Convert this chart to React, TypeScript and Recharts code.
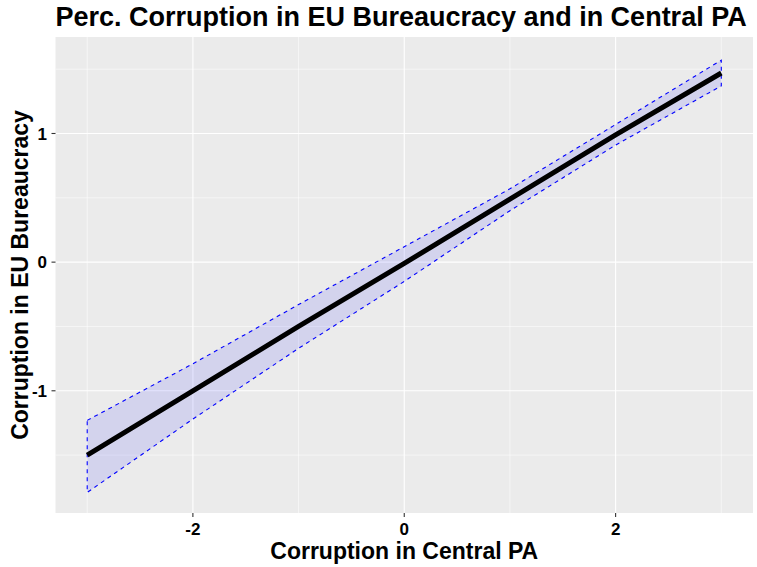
import React from "react";
import {
  ComposedChart,
  XAxis,
  YAxis,
  CartesianGrid,
  Area,
  Line,
  Label,
} from "recharts";

// Values
const xVals = [-3, -2, -1, 0, 1, 2, 3];
const fitVals = [-1.5, -1.0, -0.5, -0.01, 0.49, 0.99, 1.47];
const lowerVals = [-1.79, -1.22, -0.67, -0.15, 0.4, 0.91, 1.37];
const upperVals = [-1.23, -0.79, -0.33, 0.12, 0.57, 1.07, 1.57];

const xTicks = [-2, 0, 2];
const yTicks = [-1, 0, 1];
const xMinorGrid = [-3, -1, 1, 3];
const yMinorGrid = [-1.5, -0.5, 0.5, 1.5];

const TITLE = "Perc. Corruption in EU Bureaucracy and in Central PA";
const X_TITLE = "Corruption in Central PA";
const Y_TITLE = "Corruption in EU Bureaucracy";

const data = xVals.map((x, i) => ({
  x,
  fit: fitVals[i],
  band: [lowerVals[i], upperVals[i]],
}));

// closed outline of the ribbon: upper edge left->right, lower edge right->left
const outline = [
  ...xVals.map((x, i) => ({ x, edge: upperVals[i] })),
  ...xVals
    .map((x, i) => ({ x, edge: lowerVals[i] }))
    .reverse(),
  { x: xVals[0], edge: upperVals[0] },
];

const FONT = "'Liberation Sans', Arial, sans-serif";

const W = 757;
const H = 567;

export default function App() {
  return (
    <div
      style={{
        position: "absolute",
        left: 0,
        top: 0,
        width: W,
        height: H,
        background: "#ffffff",
        fontFamily: FONT,
      }}
    >
      <ComposedChart
        width={W}
        height={H}
        data={data}
        margin={{ top: 37, right: 4, bottom: 0, left: 0 }}
      >
        <CartesianGrid
          fill="#EBEBEB"
          stroke="#FFFFFF"
          strokeWidth={0.55}
          verticalValues={xMinorGrid}
          horizontalValues={yMinorGrid}
        />
        <CartesianGrid
          fill="none"
          stroke="#FFFFFF"
          strokeWidth={1.1}
          verticalValues={xTicks}
          horizontalValues={yTicks}
        />
        <XAxis
          dataKey="x"
          type="number"
          domain={[-3.3, 3.3]}
          ticks={xTicks}
          allowDataOverflow
          height={54}
          axisLine={false}
          tickSize={4}
          tickMargin={6}
          tickLine={{ stroke: "#333333", strokeWidth: 1.1 }}
          tick={{ fill: "#000000", fontSize: 17, fontWeight: "bold", fontFamily: FONT }}
        >
          <Label
            value={X_TITLE}
            position="insideBottom"
            offset={8}
            style={{ fill: "#000000", fontSize: 23, fontWeight: "bold", fontFamily: FONT }}
          />
        </XAxis>
        <YAxis
          type="number"
          domain={[-1.95, 1.75]}
          ticks={yTicks}
          allowDataOverflow
          width={55.5}
          axisLine={false}
          tickSize={4}
          tickMargin={4.5}
          tickLine={{ stroke: "#333333", strokeWidth: 1.1 }}
          tick={{ fill: "#000000", fontSize: 17, fontWeight: "bold", fontFamily: FONT }}
        >
          <Label
            content={() => (
              <text
                x={20}
                y={275}
                transform="rotate(-90 20 275)"
                textAnchor="middle"
                dominantBaseline="central"
                style={{ fill: "#000000", fontSize: 23, fontWeight: "bold", fontFamily: FONT }}
              >
                {Y_TITLE}
              </text>
            )}
          />
        </YAxis>
        <Area
          dataKey="band"
          type="linear"
          stroke="none"
          fill="#0000FF"
          fillOpacity={0.1}
          isAnimationActive={false}
          dot={false}
          activeDot={false}
        />
        <Line
          data={outline}
          dataKey="edge"
          type="linear"
          stroke="#0000FF"
          strokeWidth={1.1}
          strokeDasharray="4 4"
          dot={false}
          activeDot={false}
          isAnimationActive={false}
        />
        <Line
          dataKey="fit"
          type="linear"
          stroke="#000000"
          strokeWidth={5}
          dot={false}
          activeDot={false}
          isAnimationActive={false}
        />
      </ComposedChart>
      <div
        style={{
          position: "absolute",
          left: 55.5,
          top: 1,
          fontSize: 27,
          fontWeight: "bold",
          color: "#000000",
          fontFamily: FONT,
          lineHeight: "32px",
          whiteSpace: "nowrap",
        }}
      >
        {TITLE}
      </div>
    </div>
  );
}
